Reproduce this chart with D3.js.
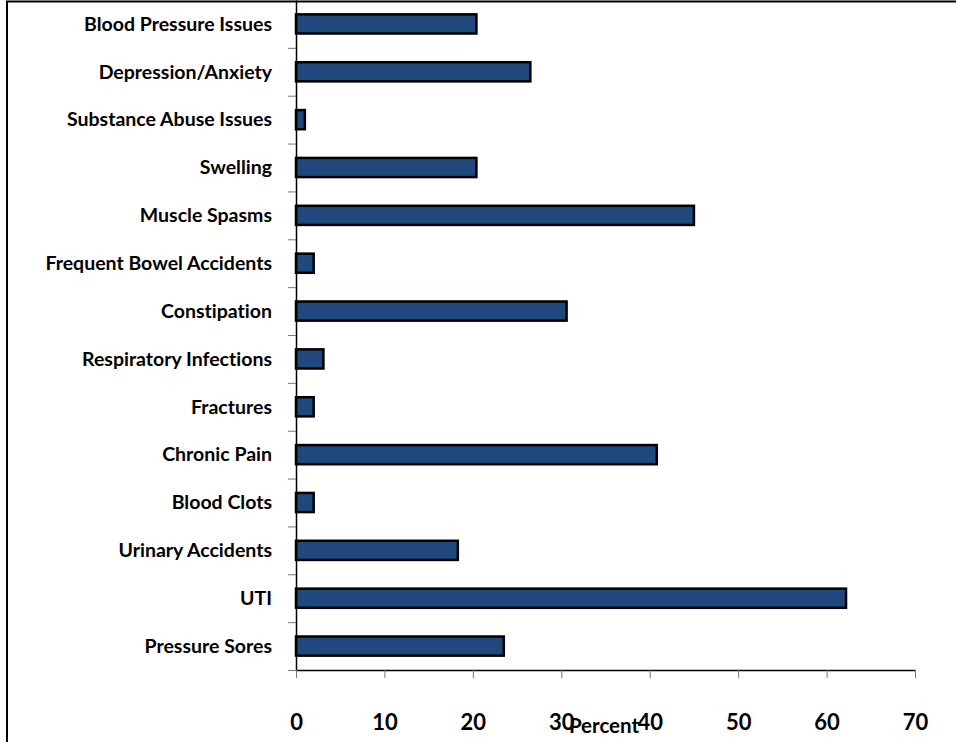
<!DOCTYPE html>
<html>
<head>
<meta charset="utf-8">
<script src="https://cdn.jsdelivr.net/npm/d3@7"></script>
<style>
  body { margin: 0; background: #fff; }
  svg { display: block; font-family: Lato, "Open Sans", sans-serif; font-variant-ligatures: none; }
</style>
</head>
<body>
<div id="chart"></div>
<script>
const categories = [
  "Blood Pressure Issues", "Depression/Anxiety", "Substance Abuse Issues", "Swelling",
  "Muscle Spasms", "Frequent Bowel Accidents", "Constipation", "Respiratory Infections",
  "Fractures", "Chronic Pain", "Blood Clots", "Urinary Accidents", "UTI", "Pressure Sores"
];
const percents = [20.4, 26.5, 1.0, 20.4, 45.0, 2.0, 30.6, 3.1, 2.0, 40.8, 2.0, 18.3, 62.2, 23.5];
const xTicks = [0, 10, 20, 30, 40, 50, 60, 70];

const data = categories.map((c, i) => ({category: c, value: percents[i]}));

const width = 956, height = 742;
const margins = {top: 0, right: 41, bottom: 72, left: 296};

const svg = d3.select("#chart")
  .append("svg")
  .attr("width", width)
  .attr("height", height);

// outer frame
svg.append("rect")
  .attr("x", 7).attr("y", 1.5)
  .attr("width", width + 20).attr("height", height + 20)
  .attr("fill", "none")
  .attr("stroke", "#000")
  .attr("stroke-width", 2);

const xScale = d3.scaleLinear()
  .domain([0, 70])
  .range([margins.left, width - margins.right]);

const yScale = d3.scaleBand()
  .domain(categories)
  .range([margins.top, height - margins.bottom])
  .paddingInner(0.6)
  .paddingOuter(0.3);

// bars
svg.append("g")
  .selectAll("rect")
  .data(data)
  .join("rect")
    .attr("x", xScale(0))
    .attr("y", d => yScale(d.category))
    .attr("width", d => xScale(d.value) - xScale(0))
    .attr("height", yScale.bandwidth())
    .attr("fill", "#1f497d")
    .attr("stroke", "#000")
    .attr("stroke-width", 2.5);

// y axis: ticks at band boundaries
const yEdges = d3.scaleLinear()
  .domain([0, categories.length])
  .range([margins.top, height - margins.bottom]);

svg.append("g")
    .attr("transform", `translate(${margins.left},0)`)
  .call(d3.axisLeft(yEdges).tickValues(d3.range(categories.length + 1)).tickFormat("").tickSize(8).tickSizeOuter(0))
  .call(g => g.select(".domain").attr("stroke", "#000").attr("stroke-width", 1.5))
  .call(g => g.selectAll(".tick line").attr("stroke", "#777"));

svg.append("g")
  .selectAll("text")
  .data(categories)
  .join("text")
    .attr("x", margins.left - 24)
    .attr("y", d => yScale(d) + yScale.bandwidth() / 2)
    .attr("dy", "0.35em")
    .attr("text-anchor", "end")
    .style("font-size", "19.5px")
    .style("font-weight", "bold")
    .text(d => d);

// x axis
const xGroup = svg.append("g")
    .attr("transform", `translate(0,${height - margins.bottom})`)
  .call(d3.axisBottom(xScale).tickValues(xTicks).tickSize(8).tickSizeOuter(0).tickPadding(36))
  .call(g => g.select(".domain").attr("stroke", "#000").attr("stroke-width", 1.5))
  .call(g => g.selectAll(".tick line").attr("stroke", "#777"));

xGroup.selectAll(".tick text")
  .attr("fill", "#000")
  .style("font-family", "Lato, sans-serif")
  .style("font-size", "22px")
  .style("font-weight", "bold");

svg.append("text")
  .attr("x", 604)
  .attr("y", 733)
  .attr("text-anchor", "middle")
  .style("font-size", "20.5px")
  .style("font-weight", "bold")
  .text("Percent");
</script>
</body>
</html>
